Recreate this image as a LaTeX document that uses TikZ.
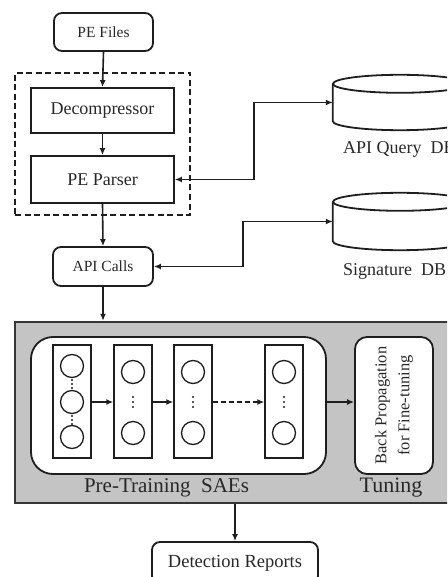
\documentclass[tikz,border=0pt]{standalone}
\usepackage{fontspec}
\setmainfont{Liberation Serif}
\usetikzlibrary{arrows.meta,calc}
\definecolor{ink}{RGB}{30,30,30}
\definecolor{panel}{RGB}{196,196,196}
\definecolor{txt}{RGB}{40,40,40}

\begin{document}
\begin{tikzpicture}[x=1pt,y=1pt,
  line/.style={line width=1.8pt, draw=ink},
  arr/.style={line, line width=1.6pt, -{Latex[length=7pt,width=6pt]}},
  biarr/.style={line, line width=1.6pt, {Latex[length=7pt,width=6pt]}-{Latex[length=7pt,width=6pt]}},
  box/.style={line, fill=white, inner sep=0pt, text=txt},
  rbox/.style={box, rounded corners=8pt},
  layer/.style={draw=ink, line width=1.4pt, fill=white, inner sep=0pt, minimum width=38pt, minimum height=113pt},
  unit/.style={draw=ink, line width=1.3pt, circle, inner sep=0pt, minimum size=23pt},
  vdot/.style={circle, fill=ink, inner sep=0pt, minimum size=2.4pt},
  lbl/.style={text=txt, inner sep=0pt},
  dbshape/.style={inner sep=0pt, minimum width=134pt}
]
\useasboundingbox (0,0) rectangle (447,-577);
\clip (0,0) rectangle (447,-577);

% --- input and unpacking stage ---
\node[rbox, minimum width=99pt, minimum height=38pt, font=\fontsize{15.5}{18}\selectfont] (pe) at (103.5,-32) {PE Files};
\node[draw=ink, line width=1.8pt, dash pattern=on 6pt off 3.5pt, minimum width=175pt, minimum height=142pt, inner sep=0pt] (grp) at (102.5,-144) {};
\node[box, minimum width=143pt, minimum height=45pt, font=\fontsize{18}{21}\selectfont] (dec) at (102.5,-110.5) {Decompressor};
\node[box, minimum width=143pt, minimum height=47pt, font=\fontsize{18}{21}\selectfont] (par) at (102.5,-179.5) {PE Parser};
\node[rbox, minimum width=100pt, minimum height=39pt, font=\fontsize{15.5}{18}\selectfont] (api) at (103,-266.5) {API Calls};

% --- databases ---
\node[dbshape, minimum height=55pt] (dbq) at (400,-102.5) {};
\draw[line, fill=white] ($(dbq.north west)+(0,-9)$) -- ($(dbq.south west)+(0,9)$)
  arc[start angle=180, end angle=360, x radius=67, y radius=9]
  -- ($(dbq.north east)+(0,-9)$);
\draw[line] ($(dbq.north)+(0,-9)$) ellipse[x radius=67, y radius=9];
\node[lbl, anchor=west, font=\fontsize{18}{21}\selectfont] (dbqt) at (343,-149) {API Query\ \ DB};

\node[dbshape, minimum height=57pt] (dbs) at (400,-221.5) {};
\draw[line, fill=white] ($(dbs.north west)+(0,-9)$) -- ($(dbs.south west)+(0,9)$)
  arc[start angle=180, end angle=360, x radius=67, y radius=9]
  -- ($(dbs.north east)+(0,-9)$);
\draw[line] ($(dbs.north)+(0,-9)$) ellipse[x radius=67, y radius=9];
\node[lbl, anchor=west, font=\fontsize{18}{21}\selectfont] (dbst) at (343,-271) {Signature\ \ DB};

% --- learning stage ---
\node[draw=ink!90, line width=2.4pt, fill=panel, minimum width=460pt, minimum height=181pt, inner sep=0pt] (stage) at (245,-412.5) {};
\node[box, rounded corners=22pt, minimum width=295pt, minimum height=137pt] (pre) at (178.5,-405.5) {};
\node[box, rounded corners=12pt, minimum width=78pt, minimum height=137pt] (tun) at (394,-405.5) {};
\node[lbl, rotate=90, align=center, font=\fontsize{16.5}{23}\selectfont] (tunt) at (tun.center) {Back Propagation\\for Fine-tuning};
\node[lbl, font=\fontsize{21}{24}\selectfont] (pret) at (166.5,-488) {Pre-Training\ \ SAEs};
\node[lbl, font=\fontsize{22}{24}\selectfont] (tunl) at (391,-488) {Tuning};

% layers of the stacked autoencoders
\node[layer] (l1) at (72,-401.5) {};
\node[layer] (l2) at (133,-401.5) {};
\node[layer] (l3) at (193,-401.5) {};
\node[layer] (l4) at (284,-401.5) {};

\node[unit] (u11) at (72,-366) {};
\node[unit] (u12) at (72,-402) {};
\node[unit] (u13) at (72,-437) {};
\foreach \y in {380,384,388,416,420,424} \node[vdot] at (72,-\y) {};

\foreach \n/\x in {2/133,3/193,4/284}{
  \node[unit] (u\n1) at (\x,-372) {};
  \node[unit] (u\n2) at (\x,-433) {};
  \foreach \y in {397,402,407} \node[vdot] at (\x,-\y) {};
}

\draw[arr] (l1.east |- u12) -- (l2.west |- u12);
\draw[arr] (l2.east |- u12) -- (l3.west |- u12);
\draw[arr, dash pattern=on 5pt off 3pt] (l3.east |- u12) -- (l4.west |- u12);
\draw[arr] (pre.east |- u12) -- (tun.west |- u12);

% --- output ---
\node[rbox, minimum width=166pt, minimum height=42pt, font=\fontsize{18.5}{21}\selectfont] (det) at (235,-563) {Detection Reports};

% --- flow connectors ---
\draw[arr] (pe.south) -- (dec.north);
\draw[arr] (dec.south) -- (par.north);
\draw[arr] (par.south) -- (api.north);
\draw[arr] (api.south) -- (api.south |- stage.north);
\draw[arr] (det.north |- stage.south) -- (det.north);
\draw[biarr] (par.east) -- (254,-179.5) |- (dbq.west);
\draw[biarr] (api.east) -- (243,-266.5) |- (dbs.west);
\end{tikzpicture}
\end{document}
